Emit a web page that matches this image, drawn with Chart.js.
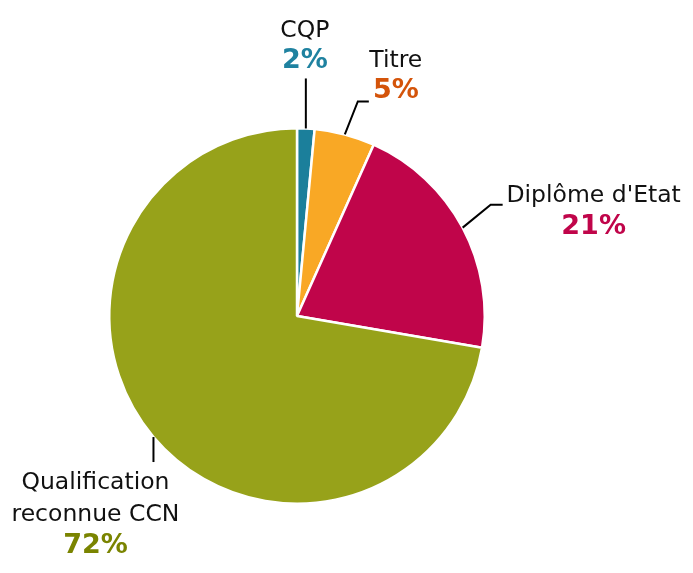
<!DOCTYPE html>
<html>
<head>
<meta charset="utf-8">
<script src="https://cdn.jsdelivr.net/npm/chart.js@4/dist/chart.umd.min.js"></script>
<style>
  html, body { margin: 0; padding: 0; background: #fff; }
  #wrap { width: 693px; height: 573px; }
</style>
</head>
<body>
<div id="wrap"><canvas id="grafico" width="693" height="573"></canvas></div>
<script>
// donnees du graphique
const categories = ['CQP', 'Titre', "Diplôme d'Etat", 'Qualification reconnue CCN'];
const valeurs = [1.5, 5.2, 21.0, 72.3];
const couleurs = ['#1b7f9b', '#f9a825', '#c0054a', '#97a21a'];
const couleursPct = ['#1f82a0', '#d4540a', '#c0054a', '#7a8400'];

// lignes de texte de chaque etiquette et position (decalage depuis le bord de la part)
const lignesNom = [['CQP'], ['Titre'], ["Diplôme d'Etat"], ['Qualification', 'reconnue CCN']];
const etiquettes = [
    { coude: [[0, -50]], texte: [-1, -98] },
    { coude: [[13, -33], [24, -33]], texte: [51, -74] },
    { coude: [[28, -23], [40, -23]], texte: [131, -32] },
    { coude: [[0, 25]], texte: [-58, 46] }
];

const pluginEtiquettes = {
    id: 'etiquettes',
    afterDatasetsDraw(chart) {
        const ctx = chart.ctx;
        const arcs = chart.getDatasetMeta(0).data;
        const total = valeurs.reduce((a, b) => a + b, 0);
        ctx.save();
        arcs.forEach((arc, i) => {
            const p = arc.getProps(['x', 'y', 'startAngle', 'endAngle', 'outerRadius'], true);
            const ang = (p.startAngle + p.endAngle) / 2;
            const ax = p.x + Math.cos(ang) * p.outerRadius;
            const ay = p.y + Math.sin(ang) * p.outerRadius;
            const et = etiquettes[i];
            // ligne de rappel
            ctx.strokeStyle = '#000';
            ctx.lineWidth = 2;
            ctx.beginPath();
            ctx.moveTo(ax, ay);
            et.coude.forEach(c => ctx.lineTo(ax + c[0], ay + c[1]));
            ctx.stroke();
            // texte
            const tx = ax + et.texte[0];
            let ty = ay + et.texte[1];
            ctx.textAlign = 'center';
            ctx.textBaseline = 'middle';
            ctx.fillStyle = '#111';
            ctx.font = '23.5px "DejaVu Sans", Verdana, sans-serif';
            lignesNom[i].forEach(l => {
                ctx.fillText(l, tx, ty);
                ty += 32;
            });
            ctx.fillStyle = couleursPct[i];
            ctx.font = 'bold 27px "DejaVu Sans", Verdana, sans-serif';
            ctx.fillText(Math.round(valeurs[i] / total * 100) + '%', tx, ty - 1);
        });
        ctx.restore();
    }
};

new Chart(document.getElementById('grafico').getContext('2d'), {
    type: 'pie',
    data: {
        labels: categories,
        datasets: [{
            data: valeurs,
            backgroundColor: couleurs,
            borderColor: '#ffffff',
            borderWidth: 2.5
        }]
    },
    options: {
        responsive: false,
        animation: false,
        layout: { padding: { left: 108, right: 207, top: 127, bottom: 68 } },
        plugins: {
            legend: { display: false },
            tooltip: { enabled: false }
        }
    },
    plugins: [pluginEtiquettes]
});
</script>
</body>
</html>
